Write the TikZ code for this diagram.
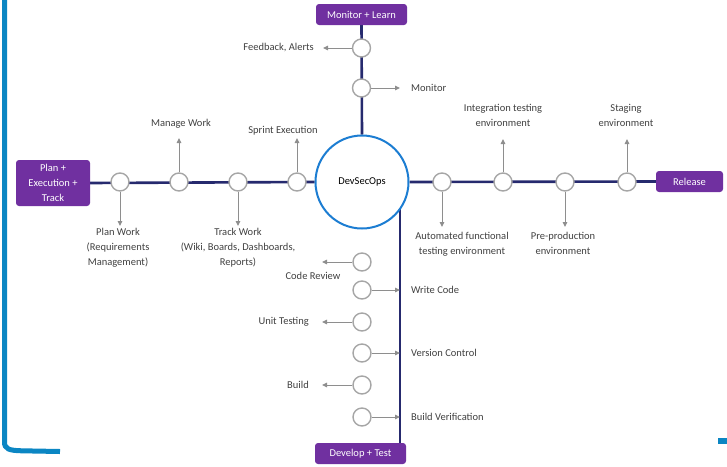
\documentclass[tikz,border=0pt]{standalone}
\usepackage{fontspec}
\setmainfont{Carlito}
\usetikzlibrary{arrows.meta,backgrounds}
\definecolor{navy}{HTML}{262A6E}
\definecolor{purp}{HTML}{7030A0}
\definecolor{bblue}{HTML}{0B86C3}
\definecolor{cblue}{HTML}{1C7DD2}
\definecolor{gline}{HTML}{8E8E8E}
\definecolor{gcirc}{HTML}{A6A6A6}
\definecolor{txt}{HTML}{404040}
\begin{document}
\begin{tikzpicture}[x=1pt,y=-1pt,
 stage/.style={circle,draw=gcirc,line width=1.4pt,fill=white,minimum size=18pt,inner sep=0pt},
 phase/.style={rectangle,rounded corners=3pt,fill=purp,text=white,align=center,
   font=\fontsize{10.5}{15}\selectfont,inner sep=0pt},
 lbl/.style={text=txt,font=\fontsize{10.5}{15}\selectfont,align=center,inner sep=0pt},
 arr/.style={draw=gline,line width=1pt,-{Triangle[length=5pt,width=4.5pt]}},
 trunk/.style={draw=navy,line width=2.6pt}]
\useasboundingbox (0,0) rectangle (727,466);

% frame decorations
\draw[bblue,line width=5pt] (4.5,-3) -- (4.5,442) .. controls (4.5,449) and (9,450.5) .. (22,450.8) -- (60,451.5);
\fill[bblue] (718,438) rectangle (727,444);

% phase boxes
\node[phase,minimum width=74pt,minimum height=46pt] (plan) at (53,183) {Plan +\\Execution +\\Track};
\node[phase,minimum width=91pt,minimum height=21pt] (mon) at (361.5,14.5) {Monitor + Learn};
\node[phase,minimum width=67pt,minimum height=21pt] (rel) at (689.5,181.5) {Release};
\node[phase,minimum width=91pt,minimum height=21pt] (dev) at (360.5,453.5) {Develop + Test};

% hub
\node[circle,draw=cblue,line width=2pt,fill=white,minimum size=93pt,inner sep=0pt,
  font=\fontsize{10.5}{12}\selectfont] (dso) at (362,182) {DevSecOps};

% stage circles
\node[stage] (c1) at (120,182) {};
\node[stage] (c2) at (179,182) {};
\node[stage] (c3) at (238,182) {};
\node[stage] (c4) at (297,182) {};
\node[stage] (r1) at (442,182) {};
\node[stage] (r2) at (503,182) {};
\node[stage] (r3) at (565,182) {};
\node[stage] (r4) at (627,182) {};
\node[stage] (t1) at (361.5,48) {};
\node[stage] (t2) at (361.5,88) {};
\node[stage] (b1) at (362,262) {};
\node[stage] (b2) at (362,290) {};
\node[stage] (b3) at (362,322) {};
\node[stage] (b4) at (362,353) {};
\node[stage] (b5) at (362,385) {};
\node[stage] (b6) at (362,417) {};

% trunk lines behind
\coordinate (dsb) at (400,208);
\begin{scope}[on background layer]
\draw[trunk] (plan.east) -- (dso.west);
\draw[trunk] (dso.east) -- (rel.west);
\draw[trunk] (mon.south) -- (dso.north);
\draw[trunk] (dsb) -- (dsb |- dev.north);
\end{scope}

% arrow end points
\coordinate (ac1) at (120,226);
\coordinate (ac2) at (179,138);
\coordinate (ac3) at (238,226);
\coordinate (ac4) at (297,138);
\coordinate (ar1) at (442,227);
\coordinate (ar2) at (503,139);
\coordinate (ar3) at (565,227);
\coordinate (ar4) at (627,139);
\coordinate (at1) at (323,48);
\coordinate (at2) at (400,88);
\coordinate (ab1) at (322,262);
\coordinate (ab2) at (400,290);
\coordinate (ab3) at (322,322);
\coordinate (ab4) at (400,353);
\coordinate (ab5) at (322,385);
\coordinate (ab6) at (400,417);

\draw[arr] (c1) -- (ac1);
\draw[arr] (c2) -- (ac2);
\draw[arr] (c3) -- (ac3);
\draw[arr] (c4) -- (ac4);
\draw[arr] (r1) -- (ar1);
\draw[arr] (r2) -- (ar2);
\draw[arr] (r3) -- (ar3);
\draw[arr] (r4) -- (ar4);
\draw[arr] (t1) -- (at1);
\draw[arr] (t2) -- (at2);
\draw[arr] (b1) -- (ab1);
\draw[arr] (b2) -- (ab2);
\draw[arr] (b3) -- (ab3);
\draw[arr] (b4) -- (ab4);
\draw[arr] (b5) -- (ab5);
\draw[arr] (b6) -- (ab6);

% labels
\node[lbl,anchor=north] (l1) at (118,228) {Plan Work\\(Requirements\\Management)};
\node[lbl] (l2) at (181,124) {Manage Work};
\node[lbl,anchor=north] (l3) at (238,228) {Track Work\\(Wiki, Boards, Dashboards,\\Reports)};
\node[lbl] (l4) at (283,131) {Sprint Execution};
\node[lbl,anchor=north] (m1) at (462,232) {Automated functional\\testing environment};
\node[lbl] (m2) at (503,115) {Integration testing\\environment};
\node[lbl,anchor=north] (m3) at (563,232) {Pre-production\\environment};
\node[lbl] (m4) at (626,115) {Staging\\environment};
\node[lbl,anchor=east] (n1) at (314,48) {Feedback, Alerts};
\node[lbl,anchor=west] (n2) at (411,88) {Monitor};
\node[lbl] (d1) at (313,276) {Code Review};
\node[lbl,anchor=west] (d2) at (411,290) {Write Code};
\node[lbl,anchor=east] (d3) at (309,322) {Unit Testing};
\node[lbl,anchor=west] (d4) at (411,353) {Version Control};
\node[lbl,anchor=east] (d5) at (309,385) {Build};
\node[lbl,anchor=west] (d6) at (411,417) {Build Verification};
\end{tikzpicture}
\end{document}
